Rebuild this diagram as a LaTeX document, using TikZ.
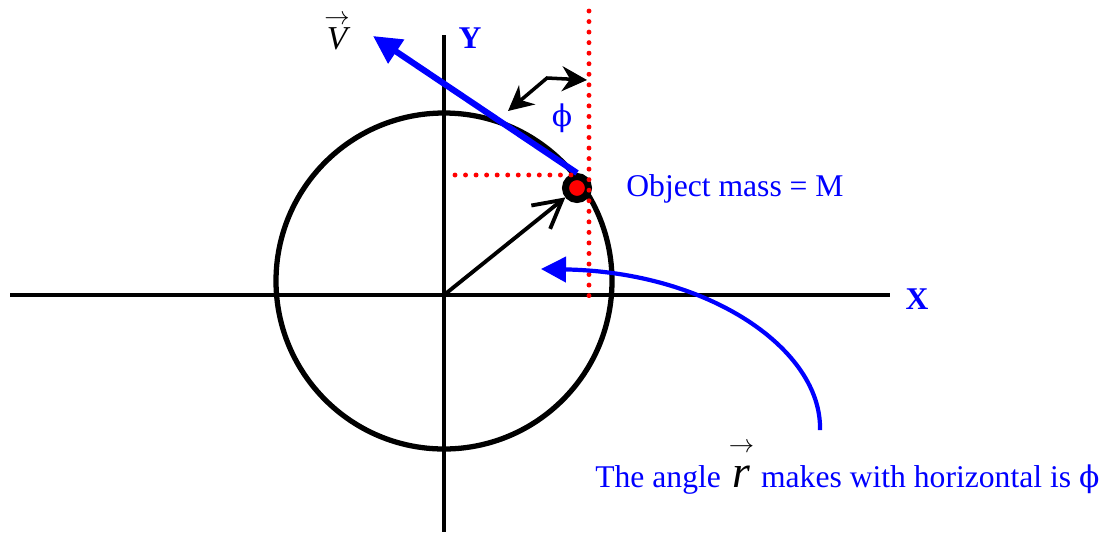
\documentclass[tikz,border=0pt]{standalone}
\usepackage{fontspec}
\setmainfont{Liberation Serif}
\newfontfamily\phifont{DejaVu Serif}
\usetikzlibrary{positioning,arrows.meta}

\tikzset{
  reddots/.style={red, line width=2.8pt, line cap=round, dash pattern=on 0pt off 6pt},
  bluelabel/.style={text=blue, font=\fontsize{18}{22}\selectfont, inner sep=0pt},
  smallarrow/.style={font=\fontsize{14}{14}\selectfont, inner sep=0pt},
}

\begin{document}
\begin{tikzpicture}[x=0.02cm,y=-0.02cm]
        \useasboundingbox (0,0) rectangle (1107,532);
        % axes and orbit
        \coordinate (O) at (444,295);
        \coordinate (xstart) at (10,295);
        \coordinate (xend) at (890,295);
        \coordinate (ytop) at (444,35);
        \coordinate (ybottom) at (444,532);
        \draw[line width=2pt] (xstart) -- (xend);
        \draw[line width=2pt] (ytop) -- (ybottom);
        \draw[line width=3pt] (444,281) circle (168);
        \node[bluelabel, font=\fontsize{18}{22}\selectfont\bfseries] (xlabel) at (917,299) {X};
        \node[bluelabel, font=\fontsize{18}{22}\selectfont\bfseries] (ylabel) at (470,38) {Y};
        % object and vectors
        \node[circle, draw=black, fill=red, line width=0.14cm, minimum size=0.46cm, inner sep=0pt] (mass) at (577,188) {};
        \coordinate (Vtip) at (373,36);
        \draw[blue, line width=3.5pt, -{Triangle[length=0.56cm,width=0.55cm]}] (mass.north) -- (Vtip);
        \draw[line width=2.2pt, -{Straight Barb[length=0.55cm,width=0.6cm]}] (O) -- (mass);
        \node[font=\fontsize{19}{22}\selectfont\itshape, inner sep=0pt] (Vlabel) at (337,39) {V};
        \node[smallarrow, above=0.06cm of Vlabel] (Varrow) {$\rightarrow$};
        % dotted guides
        \coordinate (vtop) at (589,11);
        \coordinate (vbottom) at (589,297);
        \coordinate (hleft) at (455,175);
        \coordinate (hright) at (578,175);
        \draw[reddots] (vtop) -- (vbottom);
        \draw[reddots] (hleft) -- (hright);
        % angle phi
        \coordinate (phiL) at (508,111);
        \coordinate (phiK) at (547,78);
        \coordinate (phiR) at (587,80);
        \draw[line width=2pt, {Stealth[length=0.5cm,width=0.5cm]}-{Stealth[length=0.5cm,width=0.5cm]}] (phiL) -- (phiK) -- (phiR);
        \node[bluelabel, font=\fontsize{17}{22}\phifont] (philabel) at (562,118) {ϕ};
        \node[bluelabel, anchor=west] (masslabel) at (626,189) {Object mass = M};
        % pointer to the caption
        \coordinate (cstart) at (820,430);
        \coordinate (ctip) at (541,269);
        \draw[blue, line width=2.4pt, -{Triangle[length=0.5cm,width=0.5cm]}] (cstart) .. controls (822,350) and (710,272) .. (ctip);
        \node[bluelabel, anchor=base west] (angletext) at (595,487) {The angle};
        \node[font=\fontsize{26}{28}\selectfont\itshape, inner sep=0pt, base right=0.22cm of angletext] (rsym) {r};
        \node[bluelabel, base right=0.2cm of rsym] (resttext) {makes with horizontal is {\fontsize{17}{22}\phifont ϕ}};
        \node[smallarrow, above=0.25cm of rsym] (rarrow) {$\rightarrow$};
    \end{tikzpicture}
\end{document}
